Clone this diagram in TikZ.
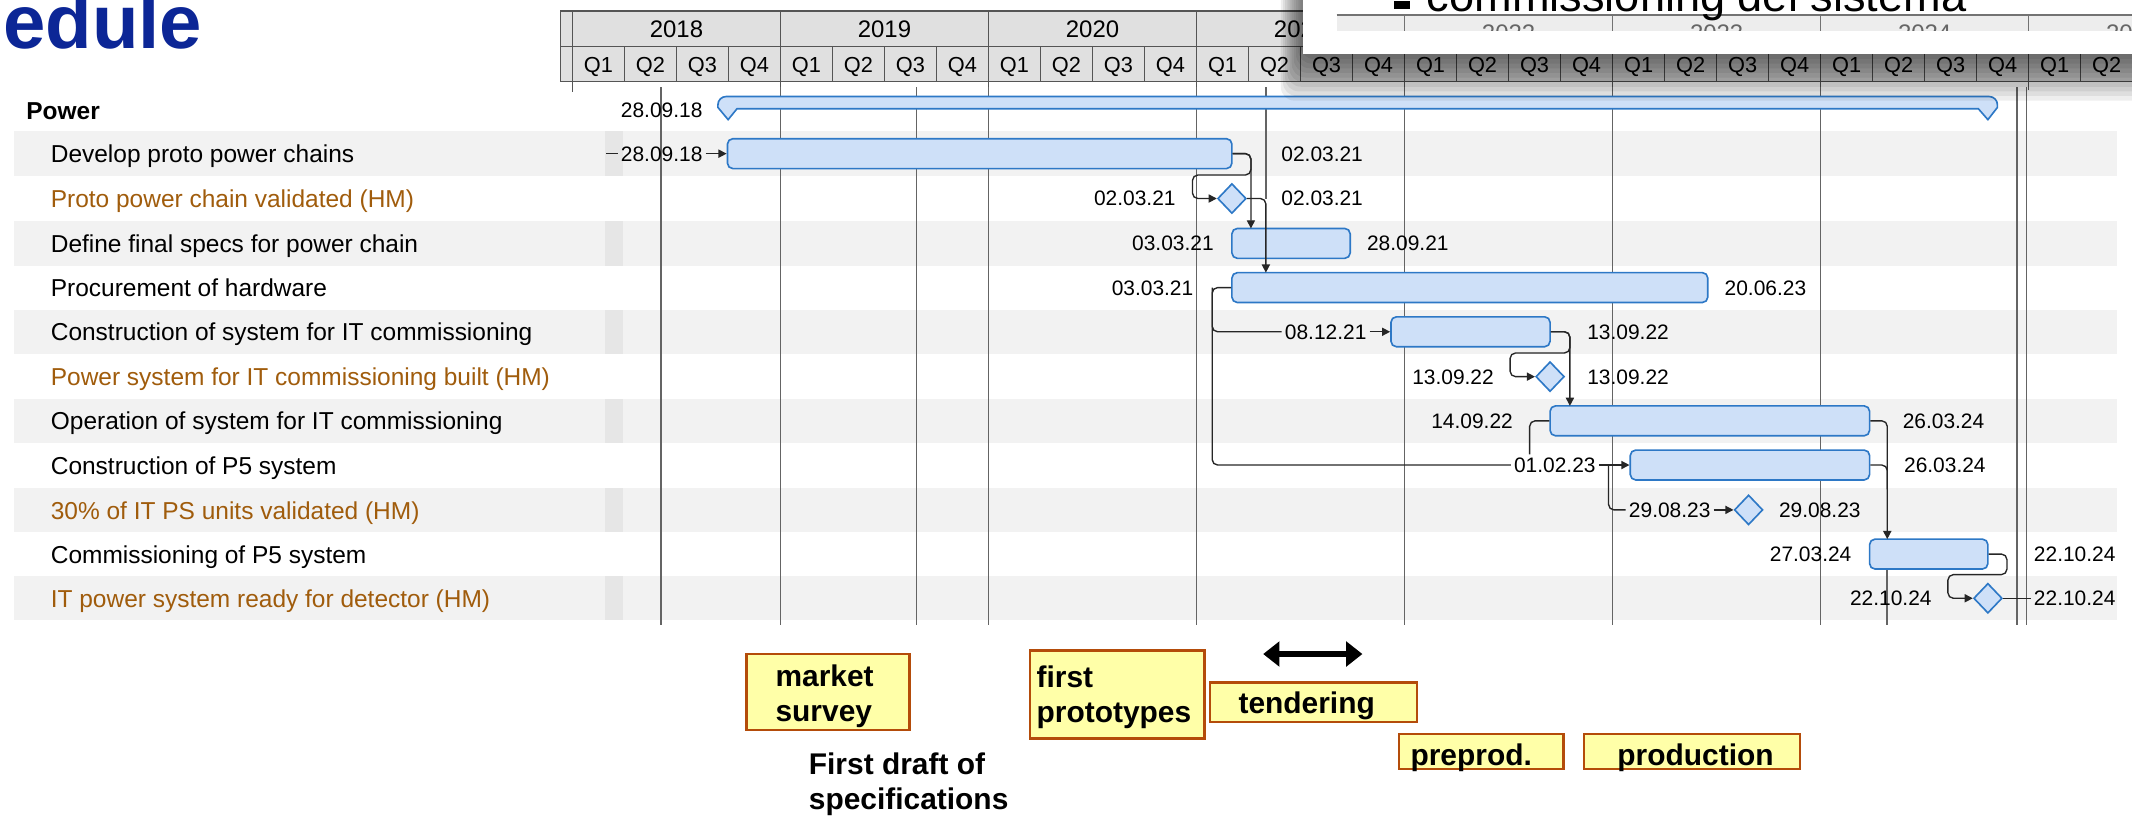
\documentclass[tikz,border=0pt]{standalone}
\usepackage{fontspec}
\setmainfont{Liberation Sans}
\usetikzlibrary{arrows.meta,shapes.geometric,calc}
\definecolor{barF}{RGB}{206,224,248}
\definecolor{barB}{RGB}{45,120,198}
\definecolor{hm}{RGB}{160,92,12}
\definecolor{band}{RGB}{242,242,242}
\definecolor{strip}{RGB}{230,230,230}
\definecolor{hdr}{RGB}{224,224,224}
\definecolor{hline}{RGB}{85,85,85}
\definecolor{gridc}{RGB}{100,100,100}
\definecolor{yfill}{RGB}{255,255,168}
\definecolor{ybord}{RGB}{180,76,10}
\definecolor{ttl}{RGB}{12,38,150}
\begin{document}
\begin{tikzpicture}[x=0.5pt,y=-0.5pt,
  task/.style={anchor=west, inner sep=0pt, font=\fontsize{9}{11}\selectfont, text height=6.5pt, text depth=1.8pt},
  dt/.style={font=\fontsize{7.7}{9}\selectfont, inner sep=1pt, text height=5.5pt, text depth=0pt},
  yr/.style={font=\fontsize{8.8}{10}\selectfont, inner sep=0pt, text height=6.3pt, text depth=0pt},
  qt/.style={font=\fontsize{8}{10}\selectfont, inner sep=0pt, text height=5.8pt, text depth=0pt},
  hl/.style={draw=hline, line width=0.5pt},
  gridl/.style={draw=gridc, line width=0.6pt},
  bar/.style={draw=barB, fill=barF, line width=0.6pt, rounded corners=2pt, minimum height=11pt, inner sep=0pt},
  ms/.style={diamond, draw=barB, fill=barF, line width=0.6pt, inner sep=0pt, minimum width=10.5pt, minimum height=11pt},
  conn/.style={draw=black!85, line width=0.5pt, rounded corners=2pt},
  arr/.style={-{Triangle[length=3pt,width=3pt]}},
  ybox/.style={draw=ybord, fill=yfill, line width=0.9pt, inner sep=0pt},
  btxt/.style={font=\fontsize{11}{12.85}\selectfont\bfseries, inner sep=0pt}
]
\useasboundingbox (0,0) rectangle (1568,600);
\begin{scope}
\clip (0,0) rectangle (1568,600);

% title
\node[anchor=base east, inner sep=0pt, font=\fontsize{28}{32}\selectfont\bfseries, text=ttl] (title) at (149,36) {edule};

% row bands
\foreach \y in {113,179,244,309.5,375,440} {
  \fill[band] (10,\y-16.3) rectangle (1557,\y+16.3);
  \fill[strip] (445,\y-16.3) rectangle (458,\y+16.3);
}

% row labels
\node[task, font=\fontsize{9}{11}\selectfont\bfseries] (lPower) at (19,83) {Power};
\node[task] (l1) at (37,115) {Develop proto power chains};
\node[task, text=hm] (l2) at (37,148) {Proto power chain validated (HM)};
\node[task] (l3) at (37,181) {Define final specs for power chain};
\node[task] (l4) at (37,213.5) {Procurement of hardware};
\node[task] (l5) at (37,246) {Construction of system for IT commissioning};
\node[task, text=hm] (l6) at (37,279) {Power system for IT commissioning built (HM)};
\node[task] (l7) at (37,311.5) {Operation of system for IT commissioning};
\node[task] (l8) at (37,344) {Construction of P5 system};
\node[task, text=hm] (l9) at (37,377) {30\% of IT PS units validated (HM)};
\node[task] (l10) at (37,409.5) {Commissioning of P5 system};
\node[task, text=hm] (l11) at (37,442) {IT power system ready for detector (HM)};

% header
\fill[hdr] (412,8) rectangle (1568,60);
\draw[hl] (412,8) -- (1568,8) (412,34) -- (1568,34) (412,60) -- (1568,60) (412,8) -- (412,60) (421,8) -- (421,68);
\foreach \k in {1,...,7} \draw[hl] ({421+153*\k},8) -- ({421+153*\k},66);
\foreach \q in {1,...,31} \draw[hl] ({421+38.25*\q},34) -- ({421+38.25*\q},60);
\foreach \k/\yy in {0/2018,1/2019,2/2020,3/2021,4/2022,5/2023,6/2024,7/2025}
  \node[yr] (y\k) at ({497.5+153*\k},21) {\yy};
\foreach \q in {0,...,31} {
  \pgfmathtruncatemacro{\qq}{mod(\q,4)+1}
  \node[qt] (q\q) at ({421+38.25*\q+19.1},47.5) {Q\qq};
}

% grid lines
\foreach \x in {486,574,674,727,880,1033,1186,1339,1483.5,1490.5}
  \draw[gridl] (\x,64) -- (\x,460);
\draw[gridl] (931,64) -- (931,146);
\draw[gridl] (1388,419) -- (1388,460);

% summary bar
\draw[draw=barB, fill=barF, line width=0.6pt]
  (528,79) [rounded corners=3pt] -- (528,71) -- (1469,71) [sharp corners] -- (1469,79)
  -- (1462,88) -- (1455,80) -- (542,80) -- (535.5,88) -- cycle;

% bars
\node[bar, minimum width=185.5pt] (dev) at (720.5,113) {};
\node[bar, minimum width=43.5pt] (def) at (949.5,179) {};
\node[bar, minimum width=175pt] (proc) at (1081,211.5) {};
\node[bar, minimum width=58.5pt] (cit) at (1081.5,244) {};
\node[bar, minimum width=117.5pt] (op) at (1257.5,309.5) {};
\node[bar, minimum width=88pt] (cp5) at (1287,342) {};
\node[bar, minimum width=43.5pt] (com) at (1418.5,407.5) {};

% milestones
\node[ms] (pm1) at (906,146) {};
\node[ms] (pm2) at (1140,277) {};
\node[ms] (pm3) at (1286,375) {};
\node[ms] (pm4) at (1462,440) {};

% dates
\node[dt, anchor=east] (dP) at (519,81) {28.09.18};
\node[dt, anchor=east] (d1l) at (519,113) {28.09.18};
\node[dt, anchor=west] (d1r) at (940,113) {02.03.21};
\node[dt, anchor=east] (d2l) at (867,146) {02.03.21};
\node[dt, anchor=west] (d2r) at (940,146) {02.03.21};
\node[dt, anchor=east] (d3l) at (895,179) {03.03.21};
\node[dt, anchor=west] (d3r) at (1003,179) {28.09.21};
\node[dt, anchor=east] (d4l) at (880,211.5) {03.03.21};
\node[dt, anchor=west] (d4r) at (1266,211.5) {20.06.23};
\node[dt] (d5l) at (975,244) {08.12.21};
\node[dt, anchor=west] (d5r) at (1165,244) {13.09.22};
\node[dt, anchor=east] (d6l) at (1101,277) {13.09.22};
\node[dt, anchor=west] (d6r) at (1165,277) {13.09.22};
\node[dt, anchor=east] (d7l) at (1115,309.5) {14.09.22};
\node[dt, anchor=west] (d7r) at (1397,309.5) {26.03.24};
\node[dt] (d8l) at (1143.5,342) {01.02.23};
\node[dt, anchor=west] (d8r) at (1398,342) {26.03.24};
\node[dt] (d9l) at (1228,375) {29.08.23};
\node[dt, anchor=west] (d9r) at (1306,375) {29.08.23};
\node[dt, anchor=east] (d10l) at (1364,407.5) {27.03.24};
\node[dt, anchor=west] (d10r) at (1493.5,407.5) {22.10.24};
\node[dt, anchor=east] (d11l) at (1423,440) {22.10.24};
\node[dt, anchor=west] (d11r) at (1493.5,440) {22.10.24};

% connector coordinates
\coordinate (dsh) at (446,113);
\coordinate (j1) at (920,168);
\coordinate (j2) at (920,128.7);
\coordinate (j3) at (877,128.7);
\coordinate (j4) at (931,200.5);
\coordinate (j5) at (891.5,211.5);
\coordinate (j6) at (1154.6,298.5);
\coordinate (j7) at (1154.6,259.6);
\coordinate (j8) at (1110.6,259.6);
\coordinate (j9) at (1125,309.5);
\coordinate (j10) at (1388,396.5);
\coordinate (j11) at (1388,360);
\coordinate (j12) at (1183,342);
\coordinate (j13) at (1476,422.6);
\coordinate (j14) at (1432.6,422.6);

% connectors
\draw[conn] (dsh) -- (d1l.west);
\draw[conn,arr] (d1l.east) -- (dev.west);
\draw[conn,arr] (dev.east) -| (j1);
\draw[conn,arr] (dev.east) -| (j2) -- (j3) |- (pm1.west);
\draw[conn,arr] (pm1.east) -| (j4);
\draw[conn] (proc.west) -- (j5) |- (d5l.west);
\draw[conn] (j5) |- (d8l.west);
\draw[conn,arr] (d5l.east) -- (cit.west);
\draw[conn,arr] (cit.east) -| (j6);
\draw[conn,arr] (cit.east) -| (j7) -- (j8) |- (pm2.west);
\draw[conn] (op.west) -- (j9) -- (j9 |- d8l.north);
\draw[conn,arr] (d8l.east) -- (cp5.west);
\draw[conn,arr] (op.east) -| (j10);
\draw[conn] (cp5.east) -| (j11);
\draw[conn] (j12) |- (d9l.west);
\draw[conn,arr] (d9l.east) -- (pm3.west);
\draw[conn,arr] (com.east) -| (j13) -- (j14) |- (pm4.west);
\draw[conn] (pm4.east) -- (d11r.west);

% overlay window with shadow
\foreach \i in {1,...,10}
  \fill[black, opacity=0.065, rounded corners=5pt] ({958-1.6*\i},-20) rectangle (1600,{40+3.4*\i});
\fill[white] (958,-20) rectangle (1600,40);
\fill[black!7] (983,11) rectangle (1600,22.5);
\draw[black!55, line width=0.5pt] (983,11) -- (1600,11);
\foreach \x in {1033,1186,1339,1492} \draw[black!55, line width=0.5pt] (\x,11) -- (\x,22.5);
\begin{scope}
  \clip (983,11) rectangle (1600,22.5);
  \foreach \k/\yy in {4/2022,5/2023,6/2024,7/2025}
    \node[yr, text=black!60] (z\k) at ({497.5+153*\k},24) {\yy};
\end{scope}
\fill (1025,1) rectangle (1037,6.5);
\node[anchor=base west, inner sep=0pt, font=\fontsize{16.6}{20}\selectfont] (cds) at (1049,8.6) {commissioning del sistema};

% bottom annotations
\node[ybox, minimum width=60pt, minimum height=28pt] (bms) at (609,509) {};
\node[btxt, anchor=west, align=left] (tms) at (570,512) {market\\survey};
\node[ybox, minimum width=64.25pt, minimum height=32.25pt] (bfp) at (821.75,510.75) {};
\node[btxt, anchor=west, align=left] (tfp) at (762,513) {first\\prototypes};
\node[ybox, minimum width=76pt, minimum height=14.5pt] (btd) at (966,516.5) {};
\node[btxt] (ttd) at (961,519) {tendering};
\node[ybox, minimum width=60.5pt, minimum height=12.8pt] (bpp) at (1089.5,552.8) {};
\node[btxt, anchor=west] (tpp) at (1037,557) {preprod.};
\node[ybox, minimum width=79.5pt, minimum height=12.8pt] (bpr) at (1244.5,552.8) {};
\node[btxt] (tpr) at (1247,557) {production};
\node[btxt, anchor=west, align=left] (tfd) at (594.5,577) {First draft of\\specifications};
\coordinate (da1) at (929,481);
\coordinate (da2) at (1002,481);
\draw[line width=2.2pt, {Triangle[length=6pt,width=9pt]}-{Triangle[length=6pt,width=9pt]}] (da1) -- (da2);
\end{scope}
\end{tikzpicture}
\end{document}
